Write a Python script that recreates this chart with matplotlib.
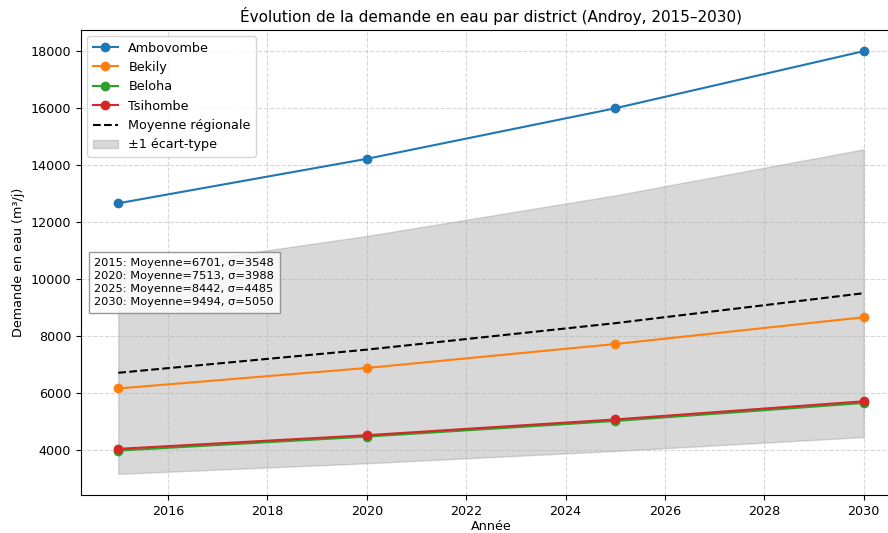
import numpy as np
import matplotlib
matplotlib.use('Agg')
from matplotlib import pyplot as plt

years = [2015, 2020, 2025, 2030]
districts = ['Ambovombe', 'Bekily', 'Beloha', 'Tsihombe']
ambovombe = [12650, 14210, 15985, 17990]
bekily = [6150, 6870, 7710, 8650]
beloha = [3970, 4460, 5010, 5640]
tsihombe = [4030, 4510, 5063, 5700]
# values printed in the annotation box
moyenne = [6701, 7513, 8442, 9494]
sigma = [3548, 3988, 4485, 5050]

colors = ['#1f77b4', '#ff7f0e', '#2ca02c', '#d62728']

plt.rcParams['font.size'] = 9.2

fig = plt.figure(figsize=(8.88, 5.33), dpi=100)
ax = fig.add_axes([81 / 888, 38 / 533, 820 / 888, 465 / 533])

for name, vals, c in zip(districts, [ambovombe, bekily, beloha, tsihombe], colors):
    ax.plot(years, vals, marker='o', color=c, label=name)

mean = np.array(moyenne)
std = np.array(sigma)
ax.plot(years, mean, 'k--', label='Moyenne régionale')
ax.fill_between(years, mean - std, mean + std, color='gray', alpha=0.3,
                label='±1 écart-type')

txt = '\n'.join(f'{y}: Moyenne={m}, σ={s}' for y, m, s in zip(years, moyenne, sigma))
ax.text(0.016, 0.457, txt, transform=ax.transAxes, fontsize=8.2, va='center',
        linespacing=1.4,
        bbox=dict(facecolor='white', edgecolor='gray', alpha=0.8))

ax.set_title('Évolution de la demande en eau par district (Androy, 2015–2030)', fontsize=11)
ax.set_xlabel('Année', labelpad=1.5)
ax.set_ylabel('Demande en eau (m³/j)')
ax.grid(True, linestyle='--', alpha=0.5)
ax.legend(loc='upper left')

fig.savefig('out.png', dpi=100)
